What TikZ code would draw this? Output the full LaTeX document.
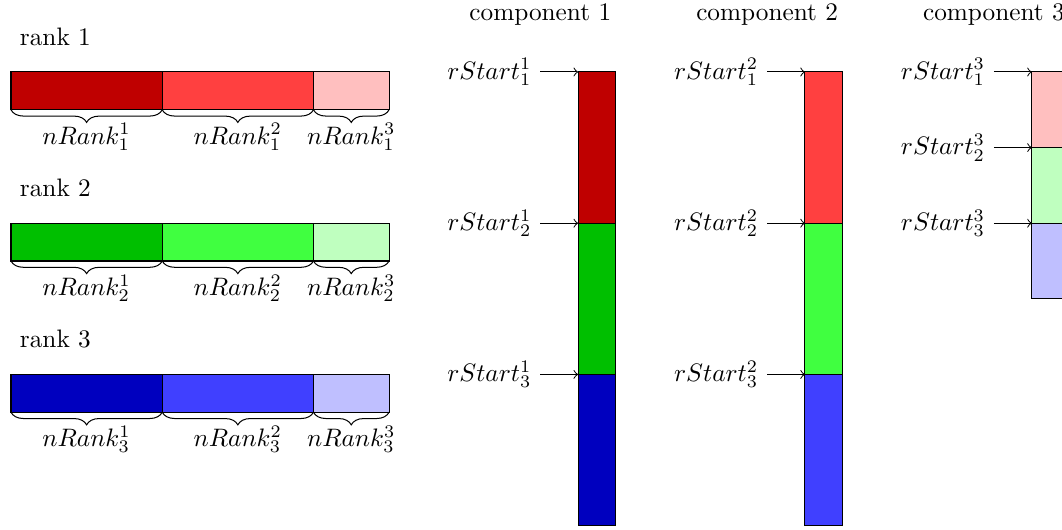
\documentclass[tikz,border=0pt]{standalone}
\usetikzlibrary{decorations.pathreplacing,calc}
\newcommand{\segunit}{1.052cm}
% shades per rank colour: 1 = dark, 2 = medium, 3 = light
\colorlet{red1}{red!75!black}\colorlet{red2}{red!75}\colorlet{red3}{red!25}
\colorlet{green1}{green!75!black}\colorlet{green2}{green!75}\colorlet{green3}{green!25}
\colorlet{blue1}{blue!75!black}\colorlet{blue2}{blue!75}\colorlet{blue3}{blue!25}
\begin{document}
\begin{tikzpicture}[x=\segunit, y=\segunit,
  seg/.style={draw=black, line width=0.4pt, inner sep=0pt, outer sep=0pt, anchor=north west},
  hseg/.style={seg, minimum height={0.5*\segunit}, minimum width={#1*\segunit}},
  vseg/.style={seg, minimum width={0.5*\segunit}, minimum height={#1*\segunit}},
  underbrace/.style={decorate, decoration={brace, mirror, amplitude=5pt}},
  startarrow/.style={->, line width=0.4pt},
  ranklabel/.style={anchor=west},
]
\clip (-0.1455,0.952) rectangle (13.9,-6.045);

% per-rank storage: three pieces, one per component
\foreach \i/\c in {1/red,2/green,3/blue}{
  \pgfmathsetmacro{\y}{-2*(\i-1)}
  \node[ranklabel] (rank\i) at (0,\y+0.47) {rank \i};
  \node[hseg=2, fill=\c1] (r\i x1) at (0,\y) {};
  \node[hseg=2, fill=\c2] (r\i x2) at (r\i x1.north east) {};
  \node[hseg=1, fill=\c3] (r\i x3) at (r\i x2.north east) {};
  \foreach \k in {1,2,3}{
    \draw[underbrace] (r\i x\k.south west) -- (r\i x\k.south east);
    \node (n\i x\k) at ($(r\i x\k.south)+(0,-0.36)$) {$nRank_{\i}^{\k}$};
  }
}

% per-component storage: the rank pieces stacked, with start offsets
\foreach \k/\x/\h in {1/7.5/2, 2/10.5/2, 3/13.5/1}{
  \node (comp\k) at (\x-0.5,0.754) {component \k};
  \node[vseg=\h, fill=red\k] (c1x\k) at (\x,0) {};
  \node[vseg=\h, fill=green\k] (c2x\k) at (c1x\k.south west) {};
  \node[vseg=\h, fill=blue\k] (c3x\k) at (c2x\k.south west) {};
  \foreach \i in {1,2,3}{
    \node[anchor=east] (s\i x\k) at ($(c\i x\k.north west)+(-0.5,0)$) {$rStart_{\i}^{\k}$};
    \draw[startarrow] (s\i x\k.east) -- (c\i x\k.north west);
  }
}
\end{tikzpicture}
\end{document}
